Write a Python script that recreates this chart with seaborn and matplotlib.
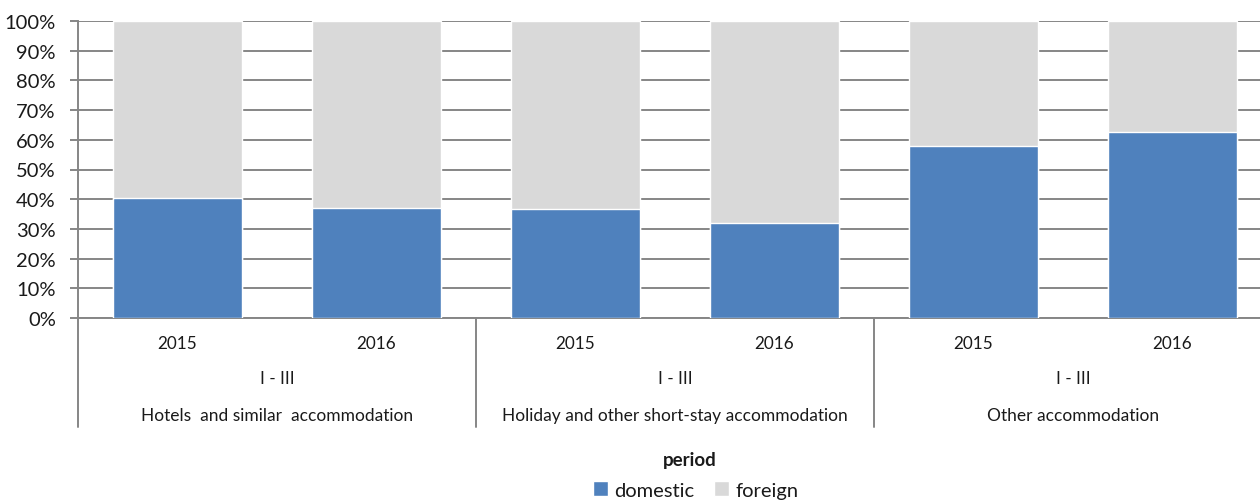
import numpy as np
import pandas as pd
import seaborn as sns
import matplotlib.pyplot as plt
from matplotlib.patches import Patch
import matplotlib.transforms as mtransforms

# data (% share of overnight stays)
groups = ["Hotels  and similar  accommodation",
          "Holiday and other short-stay accommodation",
          "Other accommodation"]
years = ["2015", "2016"]
period_label = "I - III"
domestic = [40.4, 37.0, 36.7, 32.0, 57.9, 62.5]
foreign = [59.6, 63.0, 63.3, 68.0, 42.1, 37.5]

cats = [f"{g} {y}" for g in groups for y in years]
df = pd.DataFrame({"cat": cats, "domestic": domestic, "foreign": foreign})
df["total"] = df["domestic"] + df["foreign"]

blue = "#4F81BD"
grey = "#D9D9D9"
line_col = "#868686"
txt = "#1a1a1a"

sns.set_theme(style="white")
plt.rcParams["font.family"] = ["Lato", "DejaVu Sans"]

fig = plt.figure(figsize=(12.6, 5.02), dpi=100)
ax = fig.add_axes([78 / 1260, 1 - 319 / 502, 1194 / 1260, 297 / 502])

sns.barplot(data=df, x="cat", y="total", order=cats, color=grey,
            width=0.65, saturation=1, ax=ax, zorder=2)
sns.barplot(data=df, x="cat", y="domestic", order=cats, color=blue,
            width=0.65, saturation=1, ax=ax, zorder=3)

ax.set_xlim(-0.5, len(cats) - 0.5)
ax.set_ylim(0, 100)
ax.set_yticks(np.arange(0, 101, 10))
ax.set_yticklabels([f"{v}%" for v in range(0, 101, 10)], fontsize=14.5, color=txt)
ax.set_xticks([])
ax.set_xlabel("")
ax.set_ylabel("")

ax.yaxis.grid(True, color=line_col, linewidth=1.4, zorder=1)
ax.set_axisbelow(True)
for s in ["top", "right"]:
    ax.spines[s].set_visible(False)
ax.spines["left"].set_color(line_col)
ax.spines["left"].set_linewidth(1.4)
ax.spines["bottom"].set_color(line_col)
ax.spines["bottom"].set_linewidth(1.4)
ax.tick_params(axis="y", which="major", left=True, length=6, width=1.4,
               color=line_col, pad=10)

# multi-level category axis
trans = mtransforms.blended_transform_factory(ax.transData, ax.transAxes)
for i, c in enumerate(cats):
    ax.text(i, -0.084, years[i % 2], transform=trans, ha="center", va="center",
            fontsize=12.3, color=txt)
for g, name in enumerate(groups):
    xc = 2 * g + 0.5
    ax.text(xc, -0.202, period_label, transform=trans, ha="center", va="center",
            fontsize=12.3, color=txt)
    ax.text(xc, -0.327, name, transform=trans, ha="center", va="center",
            fontsize=12.5, color=txt)
for xb in [-0.5, 1.5, 3.5, 5.5]:
    ax.plot([xb, xb], [0, -0.367], transform=trans, color=line_col,
            linewidth=1.4, clip_on=False)

ax.text(2.575, -0.475, "period", transform=trans, ha="center", va="center",
        fontsize=13.5, fontweight="bold", color=txt)

handles = [Patch(facecolor=blue, label="domestic"),
           Patch(facecolor=grey, label="foreign")]
fig.legend(handles=handles, loc="center", bbox_to_anchor=(0.552, 0.022),
           ncol=2, frameon=False, fontsize=14.5, handlelength=0.75,
           handleheight=0.75, handletextpad=0.3, columnspacing=1.0,
           borderpad=0, labelcolor=txt)

fig.savefig("out.png", dpi=100)
